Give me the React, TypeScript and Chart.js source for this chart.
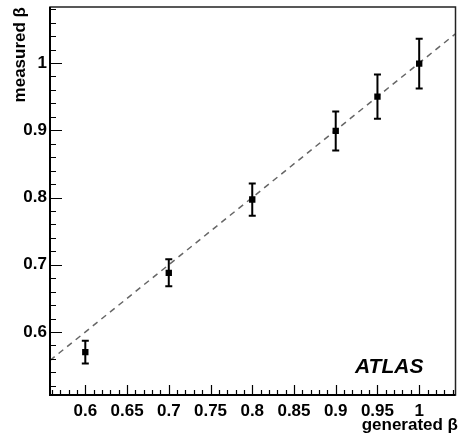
import React, { useEffect, useRef } from "react";
import { Chart, registerables } from "chart.js";

Chart.register(...registerables);

// ---- data ----
const generatedBeta = [0.6, 0.7, 0.8, 0.9, 0.95, 1.0];
const measuredBeta = [0.570, 0.688, 0.797, 0.899, 0.950, 0.999];
const measuredErr = [0.017, 0.020, 0.024, 0.029, 0.033, 0.037];
const diagonalX = [0.5577, 1.0435];
const diagonalY = [0.5577, 1.0435];
const xTickValues = [0.6, 0.65, 0.7, 0.75, 0.8, 0.85, 0.9, 0.95, 1];
const yTickValues = [0.6, 0.7, 0.8, 0.9, 1];
const xRange = [0.5577, 1.0435];
const yRange = [0.5063, 1.0833];
const xMinorStep = 0.01;
const yMinorStep = 0.02;
const xTitle = "generated β";
const yTitle = "measured β";
const stampText = "ATLAS";

const FONT = "'Liberation Sans', Arial, Helvetica, sans-serif";

const decorPlugin = {
  id: "decor",
  afterDatasetsDraw(chart: any) {
    const ctx = chart.ctx as CanvasRenderingContext2D;
    const xs = chart.scales.x;
    const ys = chart.scales.y;
    const area = chart.chartArea;
    ctx.save();

    // error bars
    ctx.strokeStyle = "#000";
    ctx.lineWidth = 2;
    for (let i = 0; i < generatedBeta.length; i++) {
      const px = xs.getPixelForValue(generatedBeta[i]);
      const top = ys.getPixelForValue(measuredBeta[i] + measuredErr[i]);
      const bot = ys.getPixelForValue(measuredBeta[i] - measuredErr[i]);
      ctx.beginPath();
      ctx.moveTo(px, top);
      ctx.lineTo(px, bot);
      ctx.moveTo(px - 3.5, top);
      ctx.lineTo(px + 3.5, top);
      ctx.moveTo(px - 3.5, bot);
      ctx.lineTo(px + 3.5, bot);
      ctx.stroke();
    }

    // frame
    ctx.strokeStyle = "#222";
    ctx.lineWidth = 1.5;
    ctx.strokeRect(area.left, area.top, area.right - area.left, area.bottom - area.top);
    ctx.strokeStyle = "#000";
    ctx.lineWidth = 2;
    ctx.beginPath();
    ctx.moveTo(area.left, area.top);
    ctx.lineTo(area.left, area.bottom);
    ctx.lineTo(area.right, area.bottom);
    ctx.stroke();

    // ticks (inward)
    ctx.lineWidth = 1.2;
    ctx.strokeStyle = "#000";
    ctx.beginPath();
    const x0 = Math.ceil(xRange[0] / xMinorStep - 1e-6);
    const x1 = Math.floor(xRange[1] / xMinorStep + 1e-6);
    for (let k = x0; k <= x1; k++) {
      const v = k * xMinorStep;
      const major = k % 5 === 0;
      const px = Math.round(xs.getPixelForValue(v)) + 0.5;
      ctx.moveTo(px, area.bottom);
      ctx.lineTo(px, area.bottom - (major ? 10 : 5));
    }
    const y0 = Math.ceil(yRange[0] / yMinorStep - 1e-6);
    const y1 = Math.floor(yRange[1] / yMinorStep + 1e-6);
    for (let k = y0; k <= y1; k++) {
      const v = k * yMinorStep;
      const major = k % 5 === 0;
      const py = Math.round(ys.getPixelForValue(v)) + 0.5;
      ctx.moveTo(area.left, py);
      ctx.lineTo(area.left + (major ? 12 : 6), py);
    }
    ctx.stroke();

    // axis titles
    ctx.fillStyle = "#000";
    ctx.font = `bold 17px ${FONT}`;
    ctx.textAlign = "right";
    ctx.textBaseline = "middle";
    ctx.fillText(xTitle, 458, 425);
    ctx.save();
    ctx.translate(20, 7);
    ctx.rotate(-Math.PI / 2);
    ctx.textAlign = "right";
    ctx.textBaseline = "middle";
    ctx.fillText(yTitle, 0, 0);
    ctx.restore();

    // ATLAS label
    ctx.font = `italic bold 21px ${FONT}`;
    ctx.textAlign = "left";
    ctx.textBaseline = "alphabetic";
    ctx.fillText(stampText, 355, 373);

    ctx.restore();
  },
};

export default function App() {
  const canvasRef = useRef<HTMLCanvasElement | null>(null);

  useEffect(() => {
    const canvas = canvasRef.current;
    if (!canvas) return;
    const chart = new Chart(canvas, {
      type: "scatter",
      data: {
        datasets: [
          {
            type: "line",
            data: diagonalX.map((x, i) => ({ x, y: diagonalY[i] })),
            borderColor: "#666",
            borderWidth: 1.5,
            borderDash: [6, 5],
            pointRadius: 0,
            fill: false,
            order: 2,
          } as any,
          {
            type: "scatter",
            data: generatedBeta.map((x, i) => ({ x, y: measuredBeta[i] })),
            pointStyle: "rect",
            pointRadius: 4.5,
            backgroundColor: "#000",
            borderColor: "#000",
            borderWidth: 0,
            order: 1,
          },
        ],
      },
      options: {
        animation: false,
        responsive: true,
        maintainAspectRatio: false,
        layout: { padding: { top: 7, right: 2, left: 0, bottom: 0 } },
        plugins: {
          legend: { display: false },
          tooltip: { enabled: false },
        },
        scales: {
          x: {
            type: "linear",
            min: xRange[0],
            max: xRange[1],
            grid: { display: false, drawTicks: false },
            border: { display: false },
            afterBuildTicks: (scale: any) => {
              scale.ticks = xTickValues.map((v) => ({ value: v }));
            },
            afterFit: (scale: any) => {
              scale.height = 43;
              scale.paddingLeft = 0;
              scale.paddingRight = 0;
            },
            ticks: {
              padding: 6,
              color: "#000",
              font: { family: FONT, size: 17, weight: "bold" },
              maxRotation: 0,
              autoSkip: false,
              callback: (v: any) => String(Number(v)),
            },
          },
          y: {
            type: "linear",
            min: yRange[0],
            max: yRange[1],
            grid: { display: false, drawTicks: false },
            border: { display: false },
            afterBuildTicks: (scale: any) => {
              scale.ticks = yTickValues.map((v) => ({ value: v }));
            },
            afterFit: (scale: any) => {
              scale.width = 50;
              scale.paddingTop = 0;
              scale.paddingBottom = 0;
            },
            ticks: {
              padding: 3,
              color: "#000",
              font: { family: FONT, size: 17, weight: "bold" },
              autoSkip: false,
              callback: (v: any) => String(Number(v)),
            },
          },
        },
      },
      plugins: [decorPlugin],
    });
    return () => chart.destroy();
  }, []);

  return (
    <div style={{ position: "fixed", left: 0, top: 0, width: 460, height: 438, background: "#fff" }}>
      <canvas ref={canvasRef} />
    </div>
  );
}
